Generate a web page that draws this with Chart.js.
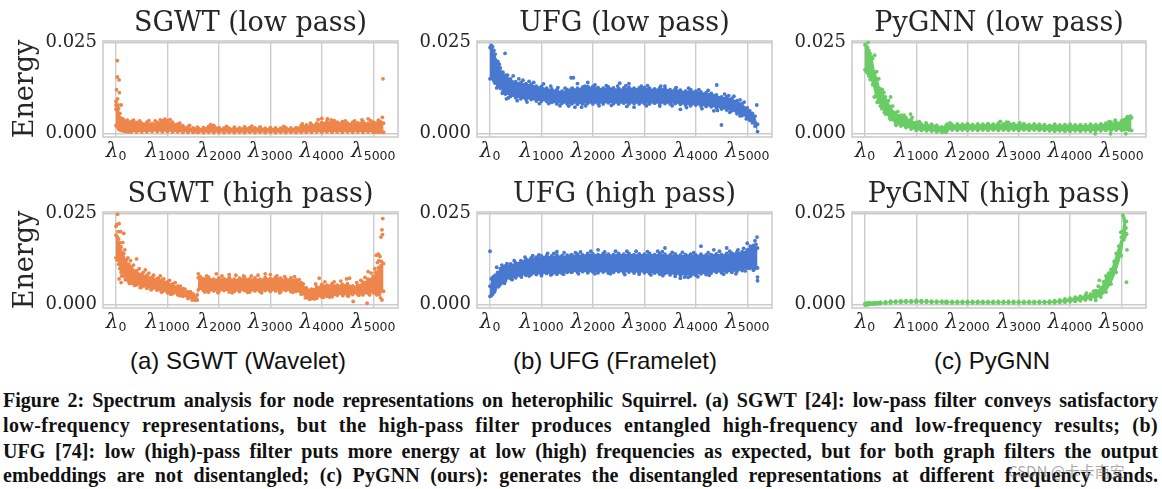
<!DOCTYPE html>
<html>
<head>
<meta charset="utf-8">
<script src="https://cdn.jsdelivr.net/npm/chart.js@4"></script>
<style>
  html,body { margin:0; background:#fff; overflow:hidden; width:1162px; height:489px; }
  canvas { position:absolute; }
  .sub { position:absolute; top:347px; width:360px; text-align:center; font:24px 'Liberation Sans',sans-serif; color:#111; white-space:nowrap; }
  .cap { position:absolute; left:3px; width:1155px; font:bold 20px/24px 'Liberation Serif',serif; color:#111; text-align:justify; text-align-last:justify; white-space:nowrap; }
  .mark { position:absolute; left:1008px; top:460px; font:15px 'Noto Sans CJK SC',sans-serif; color:rgba(110,110,110,.6); white-space:nowrap; }
</style>
</head>
<body>
<canvas id="sgwt-low" width="412" height="170" style="left:0;top:2px"></canvas>
<canvas id="ufg-low" width="379" height="170" style="left:407px;top:2px"></canvas>
<canvas id="pygnn-low" width="380" height="170" style="left:782px;top:2px"></canvas>
<canvas id="sgwt-high" width="412" height="170" style="left:0;top:173px"></canvas>
<canvas id="ufg-high" width="379" height="170" style="left:407px;top:173px"></canvas>
<canvas id="pygnn-high" width="380" height="170" style="left:782px;top:173px"></canvas>
<div class="sub" style="left:58px">(a) SGWT (Wavelet)</div>
<div class="sub" style="left:435px">(b) UFG (Framelet)</div>
<div class="sub" style="left:812px">(c) PyGNN</div>
<div class="cap" style="top:388px">Figure 2: Spectrum analysis for node representations on heterophilic Squirrel. (a) SGWT [24]: low-pass filter conveys satisfactory</div>
<div class="cap" style="top:413px;letter-spacing:.4px">low-frequency representations, but the high-pass filter produces entangled high-frequency and low-frequency results; (b)</div>
<div class="cap" style="top:439px;letter-spacing:.1px">UFG [74]: low (high)-pass filter puts more energy at low (high) frequencies as expected, but for both graph filters the output</div>
<div class="cap" style="top:463px;letter-spacing:.1px">embeddings are not disentangled; (c) PyGNN (ours): generates the disentangled representations at different frequency bands.</div>
<div class="mark">CSDN @卡卡南安</div>
<script>
/* ---------- tick labels ---------- */
const xTicks = [0,1000,2000,3000,4000,5000];
const xSubs = ['0','1000','2000','3000','4000','5000'];
const yTicks = [0,0.025];

/* ---------- eigenvalue index of every band reading below ---------- */
const lambdas = [0,25,50,75,100,150,200,250,300,
  400,500,600,700,800,900,1000,1100,1200,1300,1400,1500,
  1580,1600,
  1700,1800,1900,2000,2100,2200,2300,2400,2500,
  2600,2700,2800,2900,3000,3100,3200,3300,3400,
  3500,3600,3700,3800,3900,4000,4100,4200,
  4300,4400,4500,4600,4700,4800,4900,5000,
  5050,5100,5150,5200];

/* ---------- upper / lower edge of each scatter band, plus stray points ---------- */
const sgwtLowHi = [.0078,.0072,.0068,.0055,.0042,.0036,.0032,.0030,.0033,
  .0030,.0028,.0031,.0027,.0030,.0034,.0035,.0031,.0025,.0021,.0018,.0015,
  .0017,.0014,
  .0016,.0019,.0022,.0016,.0015,.0014,.0017,.0015,.0018,
  .0016,.0015,.0018,.0014,.0016,.0015,.0014,.0016,.0015,
  .0016,.0022,.0023,.0024,.0028,.0030,.0034,.0032,
  .0031,.0032,.0028,.0031,.0029,.0033,.0028,.0031,
  .0028,.0030,.0031,.0028];
const sgwtLowLo = [.0022,.0018,.0012,.0010,.0008,.0006,.0005,.0004,.0004,
  .0004,.0004,.0004,.0005,.0005,.0004,.0005,.0004,.0004,.0003,.0003,.0003,
  .0003,.0003,
  .0002,.0003,.0002,.0003,.0002,.0003,.0002,.0003,.0002,
  .0003,.0002,.0003,.0002,.0003,.0002,.0003,.0002,.0003,
  .0002,.0003,.0003,.0003,.0004,.0003,.0004,.0003,
  .0004,.0003,.0004,.0003,.0004,.0003,.0004,.0003,
  .0004,.0003,.0004,.0003];
const sgwtLowStray = [[26,.0200],[25,.0155],[60,.0147],[10,.0120],[65,.0112],[0,.0088],[100,.0078],[40,.0078],[0,.0066],[30,.0095],[5190,.0150],[5178,.0044],[3930,.0038],[4000,.0041],[4900,.0040],[4110,.0040],[5100,.0036],
  [130,.0040],[220,.0036],[340,.0036],[460,.0034],[640,.0035],[760,.0034],[860,.0037],[950,.0039],[1050,.0038],[1240,.0028],[1430,.0022],[1840,.0024],[2150,.0019],[2640,.0020],[3260,.0019],[3620,.0026],[3780,.0028],[4180,.0037],[4240,.0035],[4460,.0034],[4640,.0034],[4780,.0037],[4950,.0035],[5120,.0033]];

const sgwtHighHi = [.0190,.0185,.0180,.0170,.0158,.0140,.0122,.0110,.0103,
  .0093,.0083,.0080,.0075,.0071,.0068,.0062,.0056,.0050,.0043,.0035,.0029,
  .0026,.0073,
  .0071,.0075,.0069,.0073,.0070,.0074,.0069,.0072,.0075,
  .0070,.0073,.0069,.0074,.0071,.0075,.0072,.0070,.0073,
  .0067,.0060,.0045,.0042,.0048,.0055,.0053,.0057,
  .0053,.0055,.0057,.0051,.0053,.0061,.0069,.0077,
  .0088,.0101,.0107,.0112];
const sgwtHighLo = [.0128,.0122,.0110,.0098,.0088,.0078,.0068,.0063,.0058,
  .0054,.0048,.0044,.0042,.0039,.0035,.0032,.0029,.0026,.0022,.0016,.0013,
  .0012,.0040,
  .0038,.0034,.0037,.0035,.0038,.0034,.0036,.0035,.0038,
  .0034,.0037,.0035,.0038,.0036,.0037,.0034,.0038,.0035,
  .0036,.0028,.0019,.0016,.0017,.0020,.0022,.0021,
  .0025,.0027,.0024,.0027,.0028,.0026,.0030,.0032,
  .0031,.0034,.0036,.0036];
const sgwtHighStray = [[30,.0248],[60,.0222],[20,.0220],[90,.0200],[40,.0200],[150,.0195],[130,.0170],[0,.0215],[400,.0125],[570,.0095],[860,.0078],[3950,.0072],[5185,.0236],[5170,.0205],[5180,.0192],[5150,.0185],[5130,.0132],[5100,.0138],[5060,.0135],[5080,.0115],[4900,.0090],[4610,.0008],[4880,.0003],[5140,.0018],[5170,.0012],[1600,.0084],[1950,.0084],[2200,.0082],[2900,.0084],[3000,.0082],[100,.0060],[60,.0070],[4540,.0072],[4480,.0070],
  [170,.0150],[230,.0128],[280,.0120],[340,.0108],[450,.0098],[530,.0088],[640,.0086],[730,.0080],[820,.0072],[930,.0070],[1040,.0066],[1150,.0060],[1250,.0050],[1340,.0042],[1450,.0034],[1640,.0076],[1760,.0078],[2060,.0078],[2330,.0080],[2480,.0078],[2630,.0078],[2760,.0080],[3130,.0078],[3280,.0076],[3470,.0076],[3560,.0068],[3640,.0056],[3880,.0056],[4060,.0062],[4240,.0062],[4370,.0064],[4680,.0060],[4760,.0066],[4840,.0074],[4960,.0086],[5030,.0098],[5110,.0120],[5160,.0118],
  [110,.0078],[180,.0068],[260,.0058],[360,.0052],[470,.0046],[680,.0040],[880,.0034],[1060,.0028],[1240,.0024],[1480,.0012],[1540,.0011],[1730,.0034],[1980,.0032],[2260,.0032],[2560,.0033],[2830,.0032],[3180,.0032],[3440,.0033],[3680,.0018],[3760,.0014],[3860,.0015],[4030,.0019],[4150,.0020],[4410,.0024],[4520,.0023],[4720,.0025],[4930,.0026],[5070,.0026],[5120,.0028]];

const ufgLowHi = [.0236,.0242,.0238,.0228,.0218,.0198,.0180,.0168,.0160,
  .0150,.0142,.0140,.0137,.0135,.0130,.0129,.0124,.0122,.0120,.0116,.0120,
  .0122,.0124,
  .0124,.0127,.0129,.0129,.0126,.0124,.0128,.0125,.0123,
  .0125,.0127,.0124,.0125,.0126,.0124,.0122,.0125,.0124,
  .0120,.0122,.0119,.0116,.0120,.0116,.0114,.0112,
  .0110,.0106,.0100,.0101,.0096,.0090,.0082,.0070,
  .0062,.0055,.0047,.0025];
const ufgLowLo = [.0150,.0152,.0150,.0144,.0138,.0130,.0124,.0115,.0108,
  .0102,.0098,.0095,.0093,.0093,.0089,.0089,.0088,.0085,.0081,.0083,.0081,
  .0081,.0083,
  .0080,.0081,.0083,.0081,.0082,.0081,.0084,.0082,.0081,
  .0083,.0081,.0082,.0081,.0082,.0081,.0083,.0081,.0082,
  .0081,.0082,.0080,.0078,.0076,.0078,.0075,.0074,
  .0073,.0070,.0067,.0064,.0062,.0054,.0049,.0042,
  .0036,.0029,.0020,.0005];
const ufgLowStray = [[292,.0220],[320,.0095],[1575,.0153],[1620,.0153],[1700,.0137],[1900,.0140],[2520,.0138],[2700,.0137],[3400,.0130],[4407,.0133],[4498,.0023],[5185,.0078],[1650,.0072],[1780,.0072],[2800,.0072],[3700,.0066],[4350,.0062],
  [180,.0190],[340,.0160],[450,.0158],[560,.0150],[640,.0146],[760,.0143],[850,.0140],[1040,.0136],[1180,.0130],[1320,.0126],[1460,.0124],[1840,.0130],[2040,.0133],[2260,.0131],[2480,.0130],[2640,.0131],[2940,.0130],[3060,.0131],[3320,.0130],[3620,.0126],[3860,.0124],[4060,.0120],[4240,.0118],[4560,.0108],[4640,.0104],[4740,.0102],[4860,.0092],[4940,.0086],
  [130,.0125],[240,.0110],[360,.0098],[530,.0090],[720,.0086],[960,.0082],[1140,.0082],[1360,.0076],[1530,.0075],[1860,.0076],[2120,.0076],[2360,.0077],[2660,.0074],[3040,.0076],[3300,.0075],[3540,.0076],[3820,.0071],[4120,.0068],[4420,.0063],[4660,.0058],[4860,.0048],[4980,.0040]];

const ufgHighHi = [.0050,.0070,.0074,.0076,.0080,.0088,.0098,.0102,.0106,
  .0111,.0114,.0120,.0124,.0128,.0130,.0133,.0134,.0133,.0136,.0134,.0135,
  .0137,.0134,
  .0138,.0136,.0140,.0139,.0137,.0140,.0138,.0137,.0140,
  .0138,.0140,.0137,.0139,.0138,.0140,.0137,.0140,.0138,
  .0136,.0139,.0135,.0137,.0138,.0136,.0138,.0136,
  .0137,.0139,.0137,.0140,.0141,.0144,.0145,.0150,
  .0152,.0154,.0156,.0155];
const ufgHighLo = [.0022,.0024,.0028,.0034,.0041,.0048,.0055,.0060,.0065,
  .0071,.0073,.0078,.0080,.0082,.0082,.0082,.0085,.0083,.0083,.0085,.0088,
  .0088,.0090,
  .0088,.0090,.0087,.0089,.0087,.0089,.0086,.0088,.0090,
  .0087,.0089,.0086,.0088,.0087,.0085,.0086,.0083,.0085,
  .0081,.0083,.0080,.0081,.0078,.0080,.0084,.0082,
  .0086,.0088,.0087,.0089,.0088,.0091,.0093,.0100,
  .0099,.0101,.0099,.0100];
const ufgHighStray = [[0,.0146],[5200,.0065],[5200,.0075],[5190,.0185],[5150,.0175],[5170,.0165],[5000,.0168],[4100,.0160],[3400,.0155],[3350,.0145],[4600,.0155],[4350,.0150],[130,.0102],[2100,.0150],[1300,.0145],[3700,.0072],[3850,.0074],
  [230,.0108],[330,.0112],[470,.0120],[680,.0130],[830,.0134],[950,.0136],[1120,.0140],[1240,.0140],[1440,.0142],[1660,.0142],[1760,.0144],[1960,.0146],[2230,.0144],[2440,.0146],[2660,.0146],[2840,.0146],[3060,.0145],[3260,.0146],[3540,.0143],[3740,.0143],[3960,.0142],[4240,.0142],[4460,.0146],[4660,.0146],[4820,.0150],[4930,.0154],[5060,.0160],[5120,.0162],
  [90,.0035],[170,.0050],[280,.0058],[430,.0068],[610,.0075],[760,.0078],[1000,.0079],[1180,.0081],[1430,.0083],[1720,.0084],[2040,.0084],[2340,.0084],[2620,.0082],[2900,.0083],[3130,.0081],[3360,.0079],[3600,.0077],[3780,.0075],[4040,.0076],[4260,.0080],[4540,.0083],[4780,.0084],[4960,.0092],[5120,.0094]];

const pygnnLowHi = [.0244,.0240,.0236,.0228,.0220,.0206,.0167,.0150,.0122,
  .0100,.0074,.0057,.0050,.0043,.0038,.0030,.0026,.0025,.0025,.0022,.0018,
  .0021,.0025,
  .0024,.0026,.0025,.0027,.0024,.0026,.0025,.0027,.0025,
  .0028,.0026,.0030,.0027,.0025,.0027,.0024,.0026,.0025,
  .0024,.0022,.0025,.0023,.0024,.0025,.0023,.0024,
  .0023,.0025,.0024,.0026,.0028,.0031,.0030,.0034,
  .0038,.0042,.0044,.0043];
const pygnnLowLo = [.0175,.0170,.0166,.0158,.0148,.0134,.0102,.0088,.0075,
  .0053,.0038,.0025,.0020,.0016,.0012,.0008,.0008,.0007,.0006,.0004,.0003,
  .0003,.0008,
  .0009,.0008,.0009,.0008,.0009,.0008,.0009,.0008,.0009,
  .0008,.0009,.0008,.0009,.0008,.0009,.0008,.0009,.0008,
  .0008,.0007,.0006,.0007,.0006,.0006,.0007,.0006,
  .0007,.0006,.0007,.0007,.0008,.0008,.0009,.0009,
  .0010,.0011,.0009,.0008];
const pygnnLowStray = [[190,.0215],[500,.0100],[430,.0085],[888,.0053],[4490,-.0001],[4790,-.0001],[5087,-.0001],[60,.0250],
  [130,.0210],[230,.0170],[270,.0150],[340,.0120],[370,.0112],[460,.0090],[540,.0075],[640,.0060],[760,.0050],[920,.0044],[1060,.0032],[1190,.0029],[1660,.0029],[2640,.0033],[2760,.0031],[3020,.0029],[4760,.0032],[4880,.0036],[5120,.0046],[5180,.0047],
  [70,.0165],[180,.0100],[240,.0085],[330,.0068],[380,.0058],[480,.0042],[610,.0022]];

const pygnnHighHi = [.0002,.0003,.0003,.0003,.0004,.0004,.0005,.0005,.0006,
  .0007,.0009,.0009,.0010,.0010,.0010,.0011,.0010,.0010,.0009,.0009,.0009,
  .0008,.0008,
  .0008,.0008,.0008,.0008,.0008,.0008,.0008,.0008,.0008,
  .0008,.0008,.0008,.0008,.0008,.0008,.0008,.0008,.0008,
  .0008,.0009,.0010,.0012,.0015,.0017,.0020,.0022,
  .0025,.0028,.0038,.0046,.0078,.0096,.0140,.0185,
  .0238,.0228,null,null];
const pygnnHighLo = [-.0001,-.0001,-.0001,0,0,.0001,.0001,.0002,.0002,
  .0003,.0004,.0005,.0005,.0006,.0006,.0006,.0006,.0006,.0005,.0005,.0005,
  .0005,.0004,
  .0004,.0004,.0004,.0004,.0004,.0004,.0004,.0004,.0004,
  .0004,.0004,.0004,.0004,.0004,.0004,.0004,.0004,.0004,
  .0004,.0004,.0004,.0005,.0006,.0007,.0008,.0010,
  .0012,.0014,.0018,.0020,.0034,.0056,.0088,.0134,
  .0178,.0194,null,null];
const pygnnHighStray = [[5030,.0245],[5060,.0230],[5100,.0193],[5110,.0150],[5100,.0061],[4500,.0011],[4570,.0066],
  [4320,.0031],[4460,.0036],[4550,.0050],[4650,.0062],[4750,.0086],[4860,.0118],[4950,.0160],[5010,.0200],[4990,.0198],[5070,.0186],[5090,.0210]];

/* ---------- palette ---------- */
const ORANGE = '#ee854a', BLUE = '#4878d0', GREEN = '#6acc64';
const INK = '#262626', RULE = '#cccccc';

const frame = {
  id:'frame',
  beforeDatasetsDraw(chart) {
    const {ctx:x, chartArea:a} = chart;
    x.save(); x.strokeStyle = RULE; x.lineWidth = 1.6;
    x.strokeRect(a.left, a.top, a.right-a.left, a.bottom-a.top); x.restore();
  }
};

// lambda + subscript need two fonts, chart.js ticks only take one
const lambdaTicks = {
  id:'lambdaTicks',
  afterDraw(chart) {
    const {ctx:x, chartArea:a, scales:{x:sx}} = chart;
    x.save(); x.fillStyle = INK; x.textBaseline = 'alphabetic'; x.textAlign = 'left';
    const big = "italic 20px 'DejaVu Serif',serif", small = "12.5px 'DejaVu Sans',sans-serif";
    xTicks.forEach((v,i) => {
      x.font = big; const w1 = x.measureText('λ').width;
      x.font = small; const w2 = x.measureText(xSubs[i]).width;
      const left = sx.getPixelForValue(v) - (w1+w2)/2;
      x.font = big; x.fillText('λ', left, a.bottom+20);
      x.font = small; x.fillText(xSubs[i], left+w1, a.bottom+23);
    });
    x.restore();
  }
};

const xy = (xs, ys) => xs.map((v,i) => ({x:v, y:ys[i]}));

function panel(id, title, color, hi, lo, stray, leftW, rightPad, yLabel) {
  new Chart(document.getElementById(id), {
    type:'line',
    data:{ datasets:[
      { data:xy(lambdas,hi), borderWidth:0, backgroundColor:color, fill:'+1', tension:0,
        pointRadius:1.9, pointBorderWidth:0, pointBackgroundColor:color, spanGaps:false },
      { data:xy(lambdas,lo), borderWidth:0, fill:false, tension:0,
        pointRadius:1.9, pointBorderWidth:0, pointBackgroundColor:color, spanGaps:false },
      { data:stray.map(p => ({x:p[0], y:p[1]})), showLine:false,
        pointRadius:1.9, pointBorderWidth:0, pointBackgroundColor:color }
    ]},
    options:{
      responsive:false, animation:false, events:[],
      layout:{padding:{right:rightPad}},
      plugins:{
        legend:{display:false}, tooltip:{enabled:false},
        title:{ display:true, text:title, color:INK, fullSize:false,
          font:{family:"'DejaVu Serif',serif", size:27, weight:'normal', lineHeight:1},
          padding:{top:8, bottom:4} }
      },
      scales:{
        x:{ type:'linear', min:-253, max:5481,
          afterBuildTicks:s => { s.ticks = xTicks.map(v => ({value:v})); },
          afterFit:s => { s.height = 35; },
          grid:{color:RULE, lineWidth:1.4, drawTicks:false}, border:{display:false},
          ticks:{display:false} },
        y:{ min:-0.001, max:0.0254,
          afterBuildTicks:s => { s.ticks = yTicks.map(v => ({value:v})); },
          afterFit:s => { s.width = leftW; },
          grid:{color:RULE, lineWidth:1.4, drawTicks:false}, border:{display:false},
          title:{ display:!!yLabel, text:yLabel, color:INK, padding:{top:12,bottom:0},
            font:{family:"'DejaVu Serif',serif", size:27, weight:'normal', lineHeight:1} },
          ticks:{ color:INK, padding:6,
            font:{family:"'DejaVu Serif',serif", size:18},
            callback:v => v.toFixed(3) } }
      }
    },
    plugins:[frame, lambdaTicks]
  });
}

panel('sgwt-low','SGWT (low pass)',ORANGE,sgwtLowHi,sgwtLowLo,sgwtLowStray,103,14,'Energy');
panel('ufg-low','UFG (low pass)',BLUE,ufgLowHi,ufgLowLo,ufgLowStray,70,14,'');
panel('pygnn-low','PyGNN (low pass)',GREEN,pygnnLowHi,pygnnLowLo,pygnnLowStray,70,16,'');
panel('sgwt-high','SGWT (high pass)',ORANGE,sgwtHighHi,sgwtHighLo,sgwtHighStray,103,14,'Energy');
panel('ufg-high','UFG (high pass)',BLUE,ufgHighHi,ufgHighLo,ufgHighStray,70,14,'');
panel('pygnn-high','PyGNN (high pass)',GREEN,pygnnHighHi,pygnnHighLo,pygnnHighStray,70,16,'');
</script>
</body>
</html>
